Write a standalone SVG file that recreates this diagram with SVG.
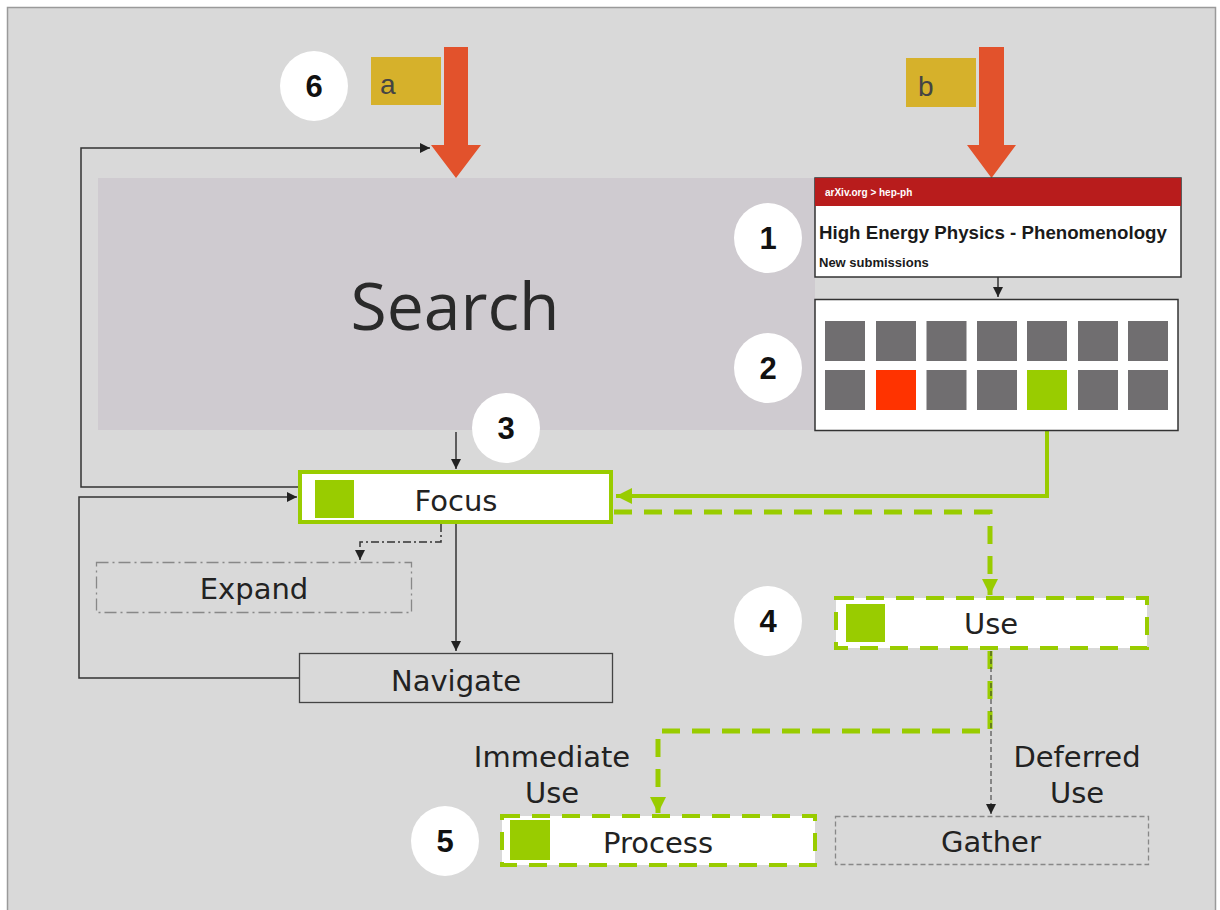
<svg xmlns="http://www.w3.org/2000/svg" width="1220" height="910" viewBox="0 0 1220 910">
<defs>
<style>
.lbl{font-family:"DejaVu Sans",Verdana,sans-serif;font-size:29px;fill:#222;text-anchor:middle}
.num{font-family:"Liberation Sans",Arial,sans-serif;font-weight:bold;font-size:31px;fill:#111;text-anchor:middle}
.circ{fill:#ffffff}
.ln{fill:none;stroke:#333;stroke-width:1.5}
.gl{fill:none;stroke:#99cc00;stroke-width:4}
.gd{fill:none;stroke:#99cc00;stroke-width:5;stroke-dasharray:18 12}
.sq{fill:#99cc00}
.cell{fill:#706e70}
.tag{fill:#d6b12b}
.tagt{font-family:"Liberation Sans",Arial,sans-serif;font-size:28px;fill:#444}
.red{fill:#e2522c}
</style>
<marker id="ah" viewBox="0 0 10 10" refX="10" refY="5" markerWidth="10" markerHeight="10" markerUnits="userSpaceOnUse" orient="auto"><path d="M0,0 L10,5 L0,10 z" fill="#222"/></marker>
<marker id="gah" viewBox="0 0 10 10" refX="10" refY="5" markerWidth="16" markerHeight="16" markerUnits="userSpaceOnUse" orient="auto"><path d="M0,0 L10,5 L0,10 z" fill="#99cc00"/></marker>
</defs>
<rect x="0" y="0" width="1220" height="910" fill="#ffffff"/>
<rect x="7.5" y="7.5" width="1208" height="905" fill="#d9d9d9" stroke="#9a9a9a" stroke-width="1.5"/>

<g id="search">
<rect x="98" y="178" width="717" height="252" fill="#cfcbd0"/>
<text x="455" y="330" font-family="'Open Sans','DejaVu Sans',sans-serif" font-size="66" fill="#2a2a2a" text-anchor="middle">Search</text>
</g>

<g id="connectors">
<path class="ln" d="M299,487 H81 V148 H430" marker-end="url(#ah)"/>
<path class="ln" d="M299,678 H79 V497 H297" marker-end="url(#ah)"/>
<path class="ln" d="M456,432 V469" marker-end="url(#ah)"/>
<path class="ln" d="M456,524 V651" marker-end="url(#ah)"/>
<path class="ln" d="M441,524 V542 H360 V560" stroke-dasharray="8 3 2 3" marker-end="url(#ah)"/>
<path class="ln" d="M998,277 V297" marker-end="url(#ah)"/>
<path class="gl" d="M1047,410 V496 H616" marker-end="url(#gah)"/>
<path class="gd" d="M614,512 H990 V595" marker-end="url(#gah)"/>
<path class="gd" d="M990,651 V731 H658 V813" marker-end="url(#gah)"/>
<path fill="none" stroke="#333" stroke-width="1" stroke-dasharray="5 3" d="M991,651 V814" marker-end="url(#ah)"/>
</g>

<g id="arrow-a">
<polygon class="red" points="444,47 468,47 468,145 481,145 456,178 431,145 444,145"/>
<rect class="tag" x="371" y="57" width="70" height="48"/>
<text class="tagt" x="380" y="94">a</text>
</g>
<g id="arrow-b">
<polygon class="red" points="979,47 1004,47 1004,145 1016,145 991.5,178 967,145 979,145"/>
<rect class="tag" x="906" y="58" width="70" height="49"/>
<text class="tagt" x="918" y="96">b</text>
</g>

<g id="arxiv">
<rect x="815" y="178" width="366" height="99" fill="#ffffff" stroke="#333" stroke-width="1.5"/>
<rect x="815" y="178" width="366" height="28" fill="#b81c1c"/>
<text x="825" y="196" font-family="'Liberation Sans',Arial,sans-serif" font-weight="bold" font-size="10" fill="#ffffff">arXiv.org &gt; hep-ph</text>
<text x="819" y="239" font-family="'Liberation Sans',Arial,sans-serif" font-weight="bold" font-size="18.7" fill="#1a1a1a">High Energy Physics - Phenomenology</text>
<text x="819" y="267" font-family="'Liberation Sans',Arial,sans-serif" font-weight="bold" font-size="13" fill="#1a1a1a">New submissions</text>
</g>

<g id="grid">
<rect x="815" y="299.5" width="363" height="131" fill="#ffffff" stroke="#333" stroke-width="1.5"/>
<rect class="cell" x="825" y="321" width="40" height="40"/>
<rect class="cell" x="876" y="321" width="40" height="40"/>
<rect class="cell" x="926.5" y="321" width="40" height="40"/>
<rect class="cell" x="977" y="321" width="40" height="40"/>
<rect class="cell" x="1027" y="321" width="40" height="40"/>
<rect class="cell" x="1078" y="321" width="40" height="40"/>
<rect class="cell" x="1128" y="321" width="40" height="40"/>
<rect class="cell" x="825" y="370" width="40" height="40"/>
<rect x="876" y="370" width="40" height="40" fill="#ff3300"/>
<rect class="cell" x="926.5" y="370" width="40" height="40"/>
<rect class="cell" x="977" y="370" width="40" height="40"/>
<rect class="sq" x="1027" y="370" width="40" height="40"/>
<rect class="cell" x="1078" y="370" width="40" height="40"/>
<rect class="cell" x="1128" y="370" width="40" height="40"/>
</g>

<g id="focus">
<rect x="300" y="472" width="311" height="50" fill="#ffffff" stroke="#99cc00" stroke-width="4"/>
<rect class="sq" x="315" y="480" width="39" height="38"/>
<text class="lbl" x="456" y="511">Focus</text>
</g>

<g id="expand">
<rect x="96.5" y="562.5" width="315" height="50" fill="none" stroke="#888" stroke-width="1.3" stroke-dasharray="12 4 2 4"/>
<text class="lbl" x="254" y="599">Expand</text>
</g>

<g id="navigate">
<rect x="299.5" y="653.5" width="313" height="49" fill="none" stroke="#444" stroke-width="1.3"/>
<text class="lbl" x="456" y="691">Navigate</text>
</g>

<g id="use">
<rect x="836" y="598" width="311" height="50" fill="#ffffff" stroke="#99cc00" stroke-width="4" stroke-dasharray="18 12"/>
<rect class="sq" x="846" y="604" width="39" height="38"/>
<text class="lbl" x="991" y="634">Use</text>
</g>

<g id="process">
<rect x="502" y="816" width="313" height="49" fill="#ffffff" stroke="#99cc00" stroke-width="4" stroke-dasharray="18 12"/>
<rect class="sq" x="510" y="820" width="40" height="40"/>
<text class="lbl" x="658" y="853">Process</text>
</g>

<g id="gather">
<rect x="835.5" y="816.5" width="313" height="48" fill="none" stroke="#888" stroke-width="1.3" stroke-dasharray="5 3"/>
<text class="lbl" x="991" y="852">Gather</text>
</g>

<g id="labels">
<text class="lbl" x="552" y="767">Immediate</text>
<text class="lbl" x="552" y="803">Use</text>
<text class="lbl" x="1077" y="767">Deferred</text>
<text class="lbl" x="1077" y="803">Use</text>
</g>

<g id="badges">
<ellipse class="circ" cx="314" cy="86" rx="34" ry="35"/>
<text class="num" x="314" y="97">6</text>
<ellipse class="circ" cx="768" cy="238" rx="34" ry="35"/>
<text class="num" x="768" y="249">1</text>
<ellipse class="circ" cx="768" cy="368" rx="34" ry="35"/>
<text class="num" x="768" y="379">2</text>
<ellipse class="circ" cx="506" cy="428" rx="34" ry="35"/>
<text class="num" x="506" y="439">3</text>
<ellipse class="circ" cx="768" cy="621" rx="34" ry="35"/>
<text class="num" x="768" y="632">4</text>
<ellipse class="circ" cx="445" cy="841" rx="34" ry="35"/>
<text class="num" x="445" y="852">5</text>
</g>
</svg>
